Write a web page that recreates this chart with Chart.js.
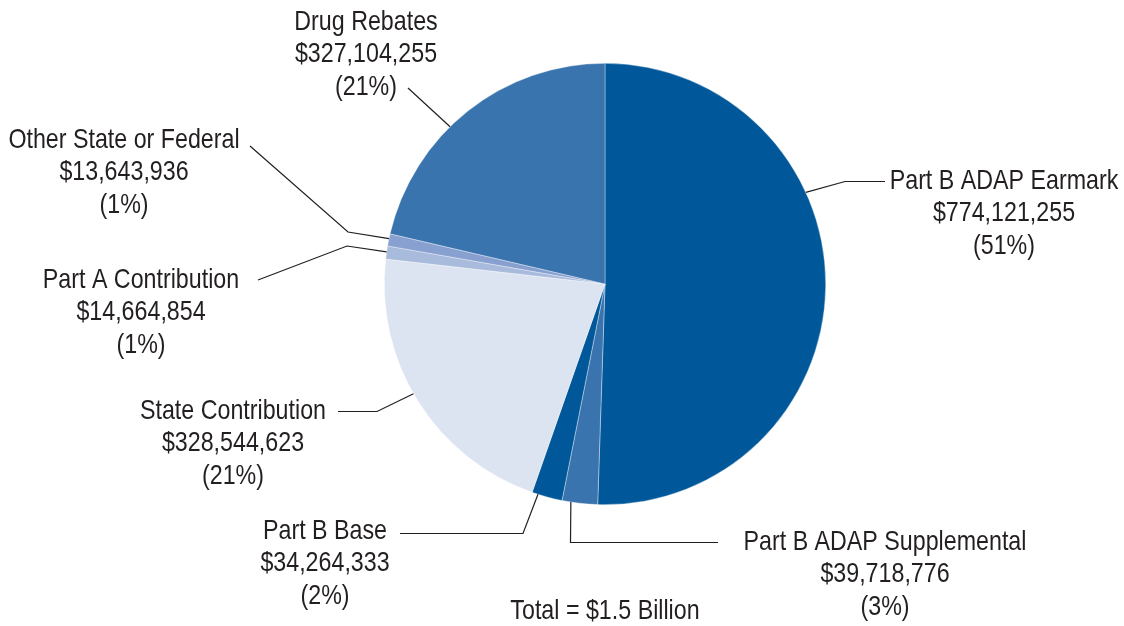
<!DOCTYPE html>
<html>
<head>
<meta charset="utf-8">
<title>ADAP Funding Sources</title>
<script src="https://cdn.jsdelivr.net/npm/chart.js@4/dist/chart.umd.min.js"></script>
<style>
  html, body { margin: 0; padding: 0; background: #fff; }
  #wrap { width: 1124px; height: 626px; }
</style>
</head>
<body>
<div id="wrap"><canvas id="fundChart" width="1124" height="626"></canvas></div>
<script>
// funding sources, clockwise from 12 o'clock
const sources = [
  'Part B ADAP Earmark',
  'Part B ADAP Supplemental',
  'Part B Base',
  'State Contribution',
  'Part A Contribution',
  'Other State or Federal',
  'Drug Rebates'
];
const amounts = [774121255, 39718776, 34264333, 328544623, 14664854, 13643936, 327104255];
const sliceColors = ['#00589b', '#3a74ae', '#00589b', '#dde4f1', '#a9bbdc', '#87a0cf', '#3a74ae'];
const totalLabel = 'Total = $1.5 Billion';

// callout placement: t = where along the arc the leader starts,
// path = bend points of the leader, x/y = centre of the first text line
const callouts = [
  { t: 0.36, path: [[845, 181.5], [885, 181.5]], x: 1004, y: 181 },
  { t: 0.75, path: [[570.5, 542.5], [718, 542.5]], x: 885, y: 542 },
  { t: 0.80, path: [[523, 533.5], [400, 533.5]], x: 325, y: 531 },
  { t: 0.53, path: [[377, 411.5], [338, 411.5]], x: 233, y: 411 },
  { t: 0.55, path: [[347, 246], [258, 280]], x: 141, y: 280 },
  { t: 0.60, path: [[348, 232], [250, 146]], x: 124, y: 140 },
  { t: 0.42, path: [[408, 88]], x: 366, y: 22 }
];

// condensed look: regular sans squeezed horizontally
const FONT = '28px "Liberation Sans", Arial, sans-serif';
const SQUEEZE = 0.83;
const INK = '#231f20';
const LINE_H = 32.5;

const total = amounts.reduce(function (a, b) { return a + b; }, 0);

function narrowText(ctx, txt, x, y) {
  ctx.save();
  ctx.translate(x, y);
  ctx.scale(SQUEEZE, 1);
  ctx.fillText(txt, 0, 0);
  ctx.restore();
}

const calloutPlugin = {
  id: 'callouts',
  afterDraw: function (chart) {
    const ctx = chart.ctx;
    const meta = chart.getDatasetMeta(0);
    ctx.save();
    ctx.strokeStyle = INK;
    ctx.lineWidth = 1.2;
    ctx.fillStyle = INK;
    ctx.font = FONT;
    ctx.textAlign = 'center';
    ctx.textBaseline = 'middle';

    meta.data.forEach(function (arc, i) {
      const p = arc.getProps(['x', 'y', 'startAngle', 'endAngle', 'outerRadius'], true);
      const c = callouts[i];
      const a = p.startAngle + c.t * (p.endAngle - p.startAngle);
      const sx = p.x + Math.cos(a) * p.outerRadius;
      const sy = p.y + Math.sin(a) * p.outerRadius;

      ctx.beginPath();
      ctx.moveTo(sx, sy);
      c.path.forEach(function (pt) { ctx.lineTo(pt[0], pt[1]); });
      ctx.stroke();

      const v = amounts[i];
      const lines = [
        sources[i],
        '$' + v.toLocaleString('en-US'),
        '(' + Math.round(v / total * 100) + '%)'
      ];
      lines.forEach(function (txt, k) {
        narrowText(ctx, txt, c.x, c.y + k * LINE_H);
      });
    });

    narrowText(ctx, totalLabel, 605, 611);
    ctx.restore();
  }
};

const ctx = document.getElementById('fundChart');
new Chart(ctx, {
  type: 'pie',
  data: {
    labels: sources,
    datasets: [{
      data: amounts,
      backgroundColor: sliceColors,
      borderColor: 'rgba(255,255,255,0.6)',
      borderWidth: 0.6
    }]
  },
  options: {
    responsive: false,
    animation: false,
    layout: {
      padding: { left: 384, right: 298, top: 63, bottom: 121 }
    },
    plugins: {
      legend: { display: false },
      tooltip: { enabled: false }
    }
  },
  plugins: [calloutPlugin]
});
</script>
</body>
</html>
